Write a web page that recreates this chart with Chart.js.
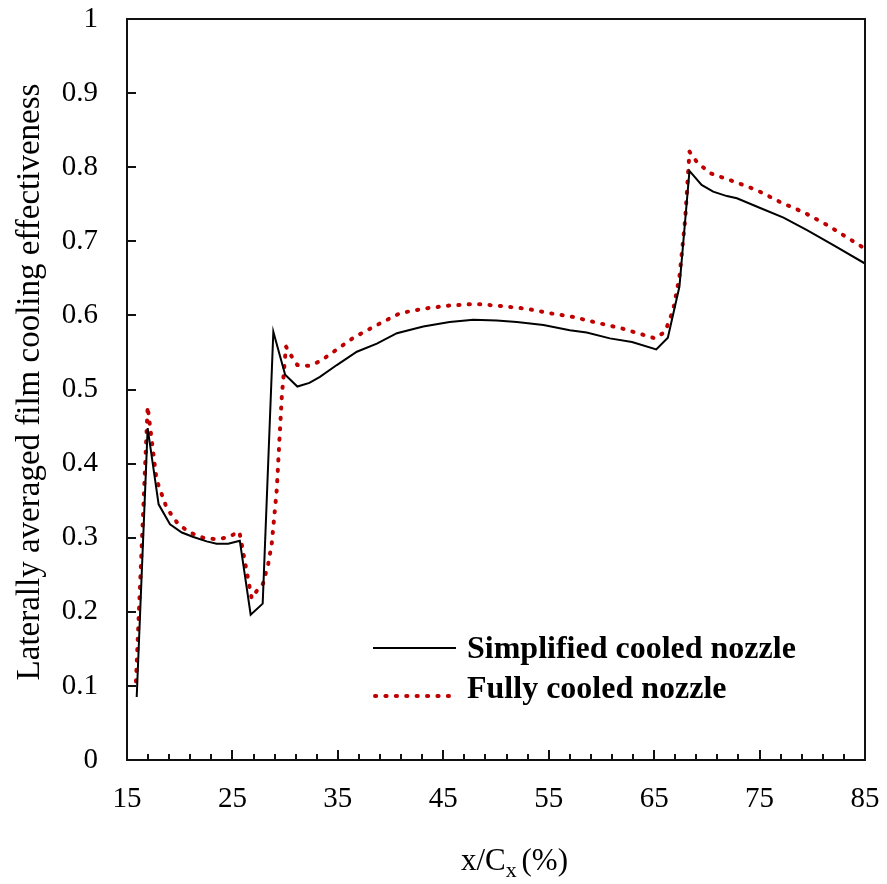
<!DOCTYPE html>
<html>
<head>
<meta charset="utf-8">
<script src="https://cdn.jsdelivr.net/npm/chart.js@4.4.1/dist/chart.umd.min.js"></script>
<style>
  body { margin: 0; background: #fff; }
  #wrap { width: 887px; height: 884px; }
</style>
</head>
<body>
<div id="wrap"><canvas id="chart" width="887" height="884"></canvas></div>
<script>
// values
const xSimplified = [15.92, 16.96, 18.0, 19.08, 20.2, 21.3, 22.56, 23.5, 24.6, 25.7, 26.73, 27.87,
  28.88, 30.0, 31.16, 32.3, 33.3, 34.9, 36.8, 38.7, 40.6, 43.1, 45.6, 47.85, 50.07, 51.97,
  54.5, 57.0, 58.6, 60.8, 62.9, 65.2, 66.3, 67.4, 68.35, 69.5, 70.6, 71.9, 72.85, 75.06,
  77.27, 79.5, 82.0, 85.0];
const ySimplified = [0.085, 0.448, 0.345, 0.318, 0.307, 0.301, 0.295, 0.292, 0.292, 0.296, 0.196, 0.211,
  0.578, 0.520, 0.504, 0.509, 0.517, 0.533, 0.551, 0.562, 0.576, 0.585, 0.591, 0.594, 0.593, 0.591,
  0.587, 0.580, 0.577, 0.569, 0.564, 0.554, 0.570, 0.639, 0.795, 0.776, 0.767, 0.761, 0.758, 0.745,
  0.732, 0.715, 0.695, 0.670];

const xFully = [15.85, 16.96, 17.8, 18.77, 19.87, 20.98, 22.2, 23.35, 24.46, 25.66, 26.83, 27.3,
  27.9, 28.4, 28.73, 29.2, 29.68, 30.08, 30.6, 31.16, 32.2, 33.3, 34.4, 36.5, 38.7, 40.9,
  43.1, 45.3, 47.5, 48.6, 50.9, 52.9, 55.1, 57.3, 59.6, 61.8, 65.1, 66.04, 66.8, 67.4,
  67.94, 68.35, 69.05, 70.3, 72.7, 74.75, 76.95, 79.2, 81.4, 85.0];
const yFully = [0.106, 0.477, 0.378, 0.340, 0.318, 0.307, 0.300, 0.298, 0.300, 0.308, 0.218, 0.228,
  0.238, 0.265, 0.292, 0.364, 0.490, 0.558, 0.545, 0.533, 0.532, 0.538, 0.549, 0.570, 0.587, 0.603,
  0.609, 0.613, 0.615, 0.615, 0.612, 0.609, 0.603, 0.598, 0.590, 0.583, 0.569, 0.578, 0.607, 0.652,
  0.729, 0.821, 0.807, 0.792, 0.780, 0.769, 0.753, 0.739, 0.722, 0.690];

const seriesNames = ["Simplified cooled nozzle", "Fully cooled nozzle"];
const xMajorTicks = [15, 25, 35, 45, 55, 65, 75, 85];
const xMinorTicks = [17, 19, 21, 23, 27, 29, 31, 33, 37, 39, 41, 43, 47, 49, 51, 53,
  57, 59, 61, 63, 67, 69, 71, 73, 77, 79, 81, 83];
const yTicks = [0, 0.1, 0.2, 0.3, 0.4, 0.5, 0.6, 0.7, 0.8, 0.9, 1];

const SERIF = "'Liberation Serif', 'Times New Roman', serif";
const RED = "#c00000";

function toPoints(xs, ys) {
  return xs.map((x, i) => ({ x, y: ys[i] }));
}

// frame, inward ticks, titles and legend
const decorPlugin = {
  id: "decor",
  afterDraw(chart) {
    const { ctx, chartArea: a, scales } = chart;
    const xs = scales.x, ys = scales.y;
    ctx.save();
    ctx.strokeStyle = "#111";
    ctx.lineWidth = 2;
    ctx.strokeRect(a.left, a.top, a.right - a.left, a.bottom - a.top);

    ctx.beginPath();
    xMajorTicks.forEach(v => {
      const p = Math.round(xs.getPixelForValue(v));
      ctx.moveTo(p, a.bottom); ctx.lineTo(p, a.bottom - 10);
    });
    xMinorTicks.forEach(v => {
      const p = Math.round(xs.getPixelForValue(v));
      ctx.moveTo(p, a.bottom); ctx.lineTo(p, a.bottom - 6);
    });
    yTicks.forEach(v => {
      const p = Math.round(ys.getPixelForValue(v));
      ctx.moveTo(a.left, p); ctx.lineTo(a.left + 9, p);
    });
    ctx.stroke();

    // y title
    ctx.fillStyle = "#000";
    ctx.font = "33px " + SERIF;
    ctx.textAlign = "center";
    ctx.textBaseline = "middle";
    ctx.save();
    ctx.translate(30, 382);
    ctx.rotate(-Math.PI / 2);
    ctx.fillText("Laterally averaged film cooling effectiveness", 0, 0);
    ctx.restore();

    // x title with subscript
    ctx.textAlign = "left";
    ctx.textBaseline = "alphabetic";
    ctx.font = "31px " + SERIF;
    const p1 = "x/C", p3 = " (%)";
    const w1 = ctx.measureText(p1).width;
    ctx.font = "22px " + SERIF;
    const w2 = ctx.measureText("x").width;
    ctx.font = "31px " + SERIF;
    const w3 = ctx.measureText(p3).width;
    let tx = 516 - (w1 + w2 + w3) / 2;
    const base = 870;
    ctx.fillText(p1, tx, base);
    ctx.font = "22px " + SERIF;
    ctx.fillText("x", tx + w1, base + 7);
    ctx.font = "31px " + SERIF;
    ctx.fillText(p3, tx + w1 + w2 - 3, base);

    // legend
    ctx.font = "bold 32px " + SERIF;
    ctx.textBaseline = "alphabetic";
    ctx.fillText(seriesNames[0], 467, 658);
    ctx.fillText(seriesNames[1], 467, 698);
    ctx.strokeStyle = "#000";
    ctx.lineWidth = 2;
    ctx.beginPath();
    ctx.moveTo(373, 648); ctx.lineTo(456, 648);
    ctx.stroke();
    ctx.strokeStyle = RED;
    ctx.lineWidth = 4;
    ctx.lineCap = "round";
    ctx.setLineDash([1.2, 9.2]);
    ctx.beginPath();
    ctx.moveTo(375, 696); ctx.lineTo(456, 696);
    ctx.stroke();
    ctx.restore();
  }
};

const chart = new Chart(document.getElementById("chart").getContext("2d"), {
  type: "line",
  data: {
    datasets: [
      {
        label: seriesNames[0],
        data: toPoints(xSimplified, ySimplified),
        borderColor: "#000",
        borderWidth: 2,
        pointRadius: 0,
        tension: 0
      },
      {
        label: seriesNames[1],
        data: toPoints(xFully, yFully),
        borderColor: RED,
        borderWidth: 4,
        borderDash: [1.2, 9.2],
        borderCapStyle: "round",
        pointRadius: 0,
        tension: 0
      }
    ]
  },
  options: {
    responsive: false,
    animation: false,
    devicePixelRatio: 1,
    layout: { padding: { left: 0, right: 22, top: 19, bottom: 0 } },
    plugins: {
      legend: { display: false },
      tooltip: { enabled: false }
    },
    scales: {
      x: {
        type: "linear",
        min: 15,
        max: 85,
        afterFit: s => { s.height = 124; s.paddingLeft = 0; s.paddingRight = 0; },
        afterBuildTicks: s => { s.ticks = xMajorTicks.map(v => ({ value: v })); },
        grid: { display: false, drawTicks: false },
        border: { display: false },
        ticks: {
          color: "#000",
          padding: 22,
          font: { family: SERIF, size: 29 }
        }
      },
      y: {
        type: "linear",
        min: 0,
        max: 1,
        afterFit: s => { s.width = 127; s.paddingTop = 0; s.paddingBottom = 0; },
        afterBuildTicks: s => { s.ticks = yTicks.map(v => ({ value: v })); },
        grid: { display: false, drawTicks: false },
        border: { display: false },
        ticks: {
          color: "#000",
          padding: 29,
          font: { family: SERIF, size: 29 },
          callback: v => String(Number(v.toFixed(1)))
        }
      }
    }
  },
  plugins: [decorPlugin]
});
</script>
</body>
</html>
